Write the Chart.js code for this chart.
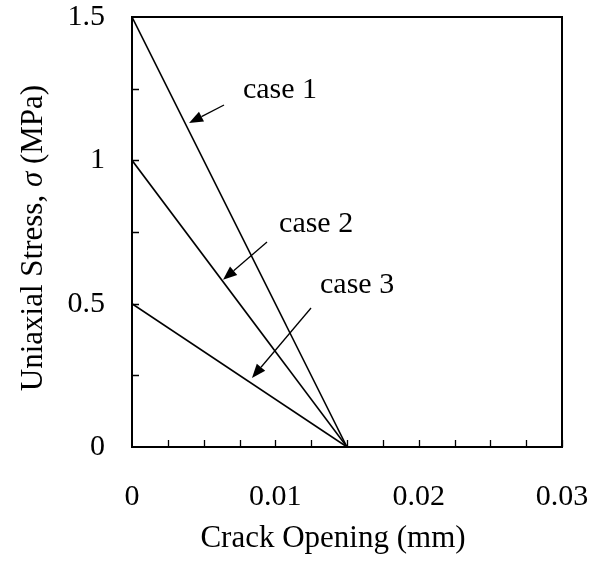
<!DOCTYPE html>
<html>
<head>
<meta charset="utf-8">
<script src="https://cdn.jsdelivr.net/npm/chart.js@4"></script>
<style>
  body { margin: 0; background: #fff; }
  canvas { display: block; }
</style>
</head>
<body>
<canvas id="stressChart" width="600" height="563"></canvas>
<script>
// crack opening (mm) and stress (MPa) for the three softening cases
const crackOpening = [0, 0.015];
const case1Stress = [1.5, 0];
const case2Stress = [1.0, 0];
const case3Stress = [0.5, 0];
const caseNames = ['case 1', 'case 2', 'case 3'];
const xTickValues = [0, 0.01, 0.02, 0.03];
const yTickValues = [0, 0.5, 1, 1.5];

// where the labels and arrows sit, in data units
const callouts = [
    { text: caseNames[0], tx: 0.00774, ty: 1.217, from: [0.00642, 1.193], to: [0.00398, 1.13] },
    { text: caseNames[1], tx: 0.01026, ty: 0.75, from: [0.00942, 0.715], to: [0.00635, 0.583] },
    { text: caseNames[2], tx: 0.01312, ty: 0.537, from: [0.01249, 0.485], to: [0.00837, 0.241] }
];

const FONT = '"Liberation Serif", "Times New Roman", serif';

function toPoints(ys) {
    return crackOpening.map((x, i) => ({ x: x, y: ys[i] }));
}

const framePlugin = {
    id: 'frame',
    afterDatasetsDraw(chart) {
        const ctx = chart.ctx;
        const a = chart.chartArea;
        const xs = chart.scales.x;
        const ys = chart.scales.y;
        ctx.save();
        ctx.strokeStyle = '#000';

        // inward ticks, every 0.0025 on x and 0.25 on y
        ctx.lineWidth = 1.3;
        ctx.beginPath();
        for (let v = 0.0025; v < 0.03; v += 0.0025) {
            const px = Math.round(xs.getPixelForValue(v)) + 0.5;
            ctx.moveTo(px, a.bottom);
            ctx.lineTo(px, a.bottom - 7);
        }
        for (let v = 0.25; v < 1.5; v += 0.25) {
            const py = Math.round(ys.getPixelForValue(v)) + 0.5;
            ctx.moveTo(a.left, py);
            ctx.lineTo(a.left + 7, py);
        }
        ctx.stroke();

        // frame
        ctx.lineWidth = 2;
        ctx.strokeRect(a.left, a.top, a.right - a.left, a.bottom - a.top);

        // callouts
        ctx.fillStyle = '#000';
        ctx.font = '30px ' + FONT;
        ctx.textBaseline = 'alphabetic';
        ctx.textAlign = 'left';
        callouts.forEach(c => {
            ctx.fillText(c.text, xs.getPixelForValue(c.tx), ys.getPixelForValue(c.ty));
            const x0 = xs.getPixelForValue(c.from[0]), y0 = ys.getPixelForValue(c.from[1]);
            const x1 = xs.getPixelForValue(c.to[0]), y1 = ys.getPixelForValue(c.to[1]);
            const ang = Math.atan2(y1 - y0, x1 - x0);
            const len = 14, half = 5.5;
            const bx = x1 - len * Math.cos(ang), by = y1 - len * Math.sin(ang);
            ctx.lineWidth = 1.3;
            ctx.beginPath();
            ctx.moveTo(x0, y0);
            ctx.lineTo(bx, by);
            ctx.stroke();
            ctx.beginPath();
            ctx.moveTo(x1, y1);
            ctx.lineTo(bx + half * Math.sin(ang), by - half * Math.cos(ang));
            ctx.lineTo(bx - half * Math.sin(ang), by + half * Math.cos(ang));
            ctx.closePath();
            ctx.fill();
        });

        // axis titles
        ctx.textAlign = 'center';
        ctx.font = '31px ' + FONT;
        ctx.fillText('Crack Opening (mm)', (a.left + a.right) / 2 - 14, 547);

        const part1 = 'Uniaxial Stress, ';
        const part2 = 'σ';
        const part3 = ' (MPa)';
        ctx.font = '31px ' + FONT;
        const w1 = ctx.measureText(part1).width;
        const w3 = ctx.measureText(part3).width;
        ctx.font = 'italic 31px ' + FONT;
        const w2 = ctx.measureText(part2).width;
        const total = w1 + w2 + w3;
        ctx.translate(42, (a.top + a.bottom) / 2 + 6);
        ctx.rotate(-Math.PI / 2);
        ctx.textAlign = 'left';
        let x = -total / 2;
        ctx.font = '31px ' + FONT;
        ctx.fillText(part1, x, 0);
        x += w1;
        ctx.font = 'italic 31px ' + FONT;
        ctx.fillText(part2, x, 0);
        x += w2;
        ctx.font = '31px ' + FONT;
        ctx.fillText(part3, x, 0);
        ctx.restore();
    }
};

const lineStyle = {
    borderColor: '#000',
    backgroundColor: '#000',
    borderWidth: 1.6,
    pointRadius: 0,
    showLine: true,
    fill: false
};

new Chart(document.getElementById('stressChart').getContext('2d'), {
    type: 'scatter',
    data: {
        datasets: [
            Object.assign({ label: caseNames[0], data: toPoints(case1Stress) }, lineStyle),
            Object.assign({ label: caseNames[1], data: toPoints(case2Stress) }, lineStyle),
            Object.assign({ label: caseNames[2], data: toPoints(case3Stress) }, lineStyle)
        ]
    },
    options: {
        responsive: false,
        animation: false,
        layout: { padding: { left: 0, top: 17, right: 38, bottom: 0 } },
        plugins: {
            legend: { display: false },
            tooltip: { enabled: false }
        },
        scales: {
            x: {
                type: 'linear',
                min: 0,
                max: 0.03,
                afterFit: scale => {
                    scale.height = 116;
                    scale.paddingLeft = 0;
                    scale.paddingRight = 0;
                },
                afterBuildTicks: scale => { scale.ticks = xTickValues.map(v => ({ value: v })); },
                grid: { display: false, drawTicks: false },
                border: { display: false },
                ticks: {
                    padding: 32,
                    color: '#000',
                    maxRotation: 0,
                    font: { family: FONT, size: 30 },
                    callback: v => String(v)
                }
            },
            y: {
                type: 'linear',
                min: 0,
                max: 1.5,
                afterFit: scale => {
                    scale.width = 132;
                    scale.paddingTop = 0;
                    scale.paddingBottom = 0;
                },
                afterBuildTicks: scale => { scale.ticks = yTickValues.map(v => ({ value: v })); },
                grid: { display: false, drawTicks: false },
                border: { display: false },
                ticks: {
                    padding: 27,
                    color: '#000',
                    font: { family: FONT, size: 30 },
                    callback: v => String(v)
                }
            }
        }
    },
    plugins: [framePlugin]
});
</script>
</body>
</html>
